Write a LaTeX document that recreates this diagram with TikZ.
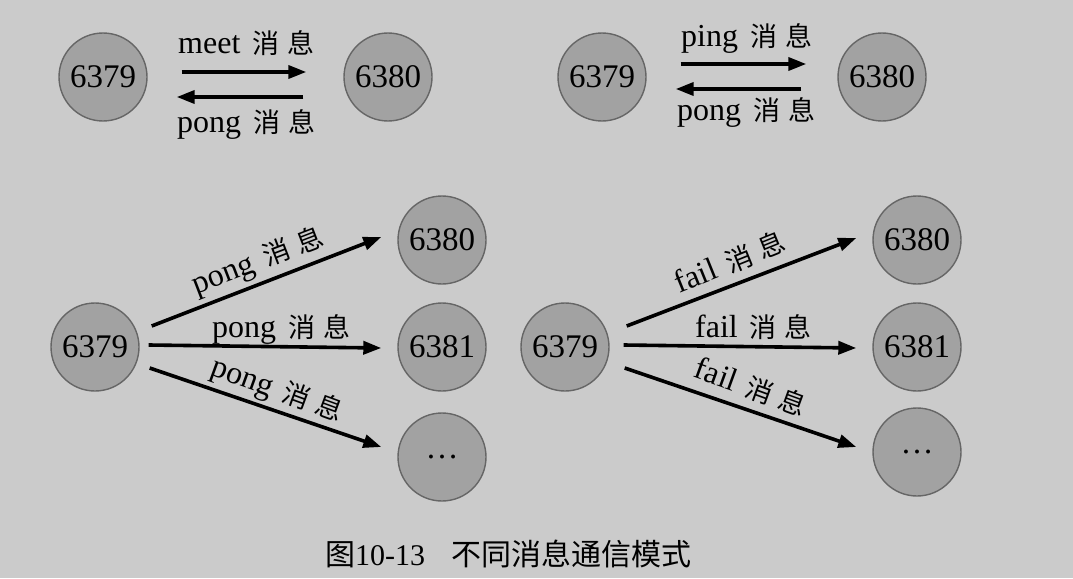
\documentclass[tikz,border=0pt]{standalone}
\usepackage{fontspec}
\setmainfont{Liberation Serif}
\newfontfamily\cjk{Noto Sans CJK SC}
\usetikzlibrary{arrows.meta}
\definecolor{bgc}{HTML}{CBCBCB}
\definecolor{nodefill}{HTML}{A2A2A2}
\definecolor{nodeline}{HTML}{666666}
\newcommand{\msg}[1]{#1\hspace{12pt}{\cjk\fontsize{27}{27}\selectfont 消\hspace{8pt}息}}
\tikzset{
  srv/.style={circle, draw=nodeline, fill=nodefill, line width=1.4pt, minimum size=88pt, inner sep=0pt, font=\fontsize{33}{33}\selectfont},
  arr/.style={line width=3.6pt, -{Triangle[length=18pt,width=13pt]}},
  lbl/.style={inner sep=0pt, font=\fontsize{32}{32}\selectfont},
  captext/.style={inner sep=0pt, font=\fontsize{30}{30}\selectfont}
}
\begin{document}
\begin{tikzpicture}[x=1pt,y=-1pt]
\fill[bgc] (0,0) rectangle (1073,578);
\useasboundingbox (0,0) rectangle (1073,578);

% top left
\node[srv] (a1) at (103,77) {6379};
\node[srv] (b1) at (388,77) {6380};
\draw[arr] ([shift={(34,-5)}]a1.east) -- ([shift={(-37,-5)}]b1.west);
\draw[arr] ([shift={(-40,20)}]b1.west) -- ([shift={(29,20)}]a1.east);
\node[lbl, anchor=base west] (l1) at (178,53) {\msg{meet}};
\node[lbl, anchor=base west] (l2) at (177,132) {\msg{pong}};

% top right
\node[srv] (a2) at (602,77) {6379};
\node[srv] (b2) at (882,77) {6380};
\draw[arr] ([shift={(34,-13)}]a2.east) -- ([shift={(-31,-13)}]b2.west);
\draw[arr] ([shift={(-36,12)}]b2.west) -- ([shift={(29,12)}]a2.east);
\node[lbl, anchor=base west] (l3) at (681,47) {\msg{ping}};
\node[lbl, anchor=base west] (l4) at (677,120) {\msg{pong}};

% bottom left
\node[srv] (a3) at (95,347) {6379};
\node[srv] (c1) at (442,240) {6380};
\node[srv] (c2) at (442,347) {6381};
\node[srv] (c3) at (442,457) {…};
\draw[arr] ([shift={(12,-21)}]a3.east) -- ([shift={(-16,-3)}]c1.west);
\draw[arr] ([shift={(9,-2)}]a3.east) -- ([shift={(-16,1)}]c2.west);
\draw[arr] ([shift={(10,21)}]a3.east) -- ([shift={(-16,-10)}]c3.west);
\node[lbl, rotate=21] (l5) at (258,262) {\msg{pong}};
\node[lbl, anchor=base west] (l6) at (212,337) {\msg{pong}};
\node[lbl, rotate=-20] (l7) at (277,391) {\msg{pong}};

% bottom right
\node[srv] (a4) at (565,347) {6379};
\node[srv] (d1) at (917,240) {6380};
\node[srv] (d2) at (917,347) {6381};
\node[srv] (d3) at (917,452) {…};
\draw[arr] ([shift={(17,-21)}]a4.east) -- ([shift={(-16,-2)}]d1.west);
\draw[arr] ([shift={(14,-2)}]a4.east) -- ([shift={(-16,1)}]d2.west);
\draw[arr] ([shift={(15,21)}]a4.east) -- ([shift={(-16,-5)}]d3.west);
\node[lbl, rotate=22] (l8) at (730,262) {\msg{fail}};
\node[lbl, anchor=base west] (l9) at (695,337) {\msg{fail}};
\node[lbl, rotate=-20] (l10) at (751,387) {\msg{fail}};

% caption
\node[captext, anchor=base west] (cap) at (325,565) {{\cjk 图}10-13\hspace{26pt}{\cjk 不同消息通信模式}};
\end{tikzpicture}
\end{document}
